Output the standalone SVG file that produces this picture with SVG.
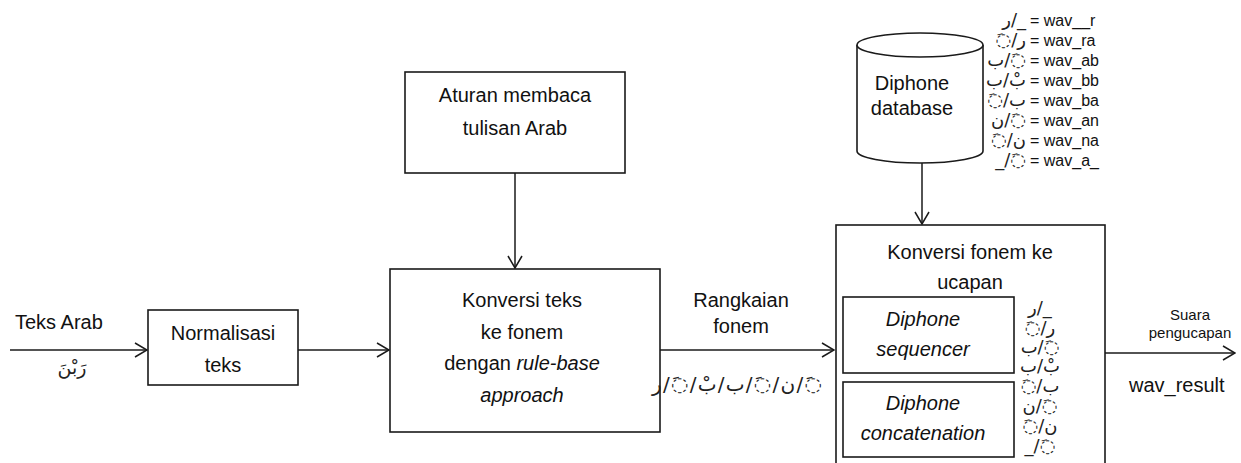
<svg xmlns="http://www.w3.org/2000/svg" width="1241" height="463" viewBox="0 0 1241 463">
<style>
.box{fill:#fff;stroke:#1a1a1a;stroke-width:1.6}
.ln{fill:none;stroke:#1a1a1a;stroke-width:1.5}
.t{font-family:'Liberation Sans','DejaVu Sans',sans-serif;font-size:20px;fill:#111}
.c{text-anchor:middle}
.i{font-style:italic}
.s{font-size:16px}
.ar{font-family:'DejaVu Sans',sans-serif;font-size:18px;fill:#222;unicode-bidi:bidi-override;direction:ltr}
</style>
<defs>
<marker id="arr" viewBox="0 0 14 16" refX="13" refY="8" markerWidth="14" markerHeight="16" markerUnits="userSpaceOnUse" orient="auto">
<path d="M1,1 L13,8 L1,15" fill="none" stroke="#1a1a1a" stroke-width="1.5"/>
</marker>
</defs>
<rect width="1241" height="463" fill="#fff"/>

<g id="connectors">
<line class="ln" x1="10" y1="350" x2="147" y2="350" marker-end="url(#arr)"/>
<line class="ln" x1="298" y1="350" x2="389" y2="350" marker-end="url(#arr)"/>
<line class="ln" x1="515" y1="173" x2="515" y2="268" marker-end="url(#arr)"/>
<line class="ln" x1="660" y1="350" x2="834" y2="350" marker-end="url(#arr)"/>
<line class="ln" x1="922" y1="163" x2="922" y2="224" marker-end="url(#arr)"/>
<line class="ln" x1="1105" y1="353" x2="1235" y2="353" marker-end="url(#arr)"/>
</g>

<g id="input-label">
<text class="t" x="15" y="329">Teks Arab</text>
<text class="ar" x="72" y="374" style="font-size:19px;text-anchor:middle;unicode-bidi:normal;direction:rtl">رَبْنَ</text>
</g>

<g id="node-normalisasi">
<rect class="box" x="148" y="310" width="150" height="75"/>
<text class="t c" x="223" y="340">Normalisasi</text>
<text class="t c" x="223" y="372">teks</text>
</g>

<g id="node-aturan">
<rect class="box" x="405" y="72" width="220" height="101"/>
<text class="t c" x="515" y="102">Aturan membaca</text>
<text class="t c" x="515" y="135">tulisan Arab</text>
</g>

<g id="node-konversi-teks">
<rect class="box" x="390" y="269" width="270" height="163"/>
<text class="t c" x="522" y="307">Konversi teks</text>
<text class="t c" x="522" y="339">ke fonem</text>
<text class="t c" x="522" y="370">dengan <tspan class="i">rule-base</tspan></text>
<text class="t c i" x="522" y="402">approach</text>
</g>

<g id="label-rangkaian">
<text class="t c" x="741" y="307">Rangkaian</text>
<text class="t c" x="741" y="333">fonem</text>
<text class="ar" x="652" y="391" style="font-size:20px" textLength="170" lengthAdjust="spacing">ر/◌َ/بْ/ب/◌َ/ن/◌َ</text>
</g>

<g id="node-database">
<path class="box" d="M857,45 L857,151 A63,12 0 0 0 983,151 L983,45"/>
<ellipse class="box" cx="920" cy="45" rx="63" ry="12"/>
<text class="t c" x="912" y="90">Diphone</text>
<text class="t c" x="912" y="115">database</text>
</g>

<g id="diphone-list">
<text class="ar" x="1026" y="26" style="text-anchor:end">ر/_</text>
<text class="ar" x="1026" y="46" style="text-anchor:end">◌َ/ر</text>
<text class="ar" x="1026" y="66" style="text-anchor:end">ب/◌َ</text>
<text class="ar" x="1026" y="86" style="text-anchor:end">ب/بْ</text>
<text class="ar" x="1026" y="106" style="text-anchor:end">◌َ/ب</text>
<text class="ar" x="1026" y="126" style="text-anchor:end">ن/◌َ</text>
<text class="ar" x="1026" y="146" style="text-anchor:end">◌َ/ن</text>
<text class="ar" x="1026" y="166" style="text-anchor:end">_/◌َ</text>
<text class="t s" x="1030" y="26">= wav__r</text>
<text class="t s" x="1030" y="46">= wav_ra</text>
<text class="t s" x="1030" y="66">= wav_ab</text>
<text class="t s" x="1030" y="86">= wav_bb</text>
<text class="t s" x="1030" y="106">= wav_ba</text>
<text class="t s" x="1030" y="126">= wav_an</text>
<text class="t s" x="1030" y="146">= wav_na</text>
<text class="t s" x="1030" y="166">= wav_a_</text>
</g>

<g id="node-konversi-fonem">
<rect class="box" x="836" y="225" width="269" height="260"/>
<text class="t c" x="970" y="259">Konversi fonem ke</text>
<text class="t c" x="970" y="289">ucapan</text>
</g>

<g id="node-sequencer">
<rect class="box" x="843" y="297" width="171" height="76"/>
<text class="t c i" x="923" y="326">Diphone</text>
<text class="t c i" x="923" y="356">sequencer</text>
</g>

<g id="node-concatenation">
<rect class="box" x="843" y="382" width="171" height="75"/>
<text class="t c i" x="923" y="410">Diphone</text>
<text class="t c i" x="923" y="440">concatenation</text>
</g>

<g id="inner-list">
<text class="ar" x="1040" y="314" style="text-anchor:middle">ر/_</text>
<text class="ar" x="1040" y="334" style="text-anchor:middle">◌َ/ر</text>
<text class="ar" x="1040" y="353" style="text-anchor:middle">ب/◌َ</text>
<text class="ar" x="1040" y="372" style="text-anchor:middle">ب/بْ</text>
<text class="ar" x="1040" y="392" style="text-anchor:middle">◌َ/ب</text>
<text class="ar" x="1040" y="412" style="text-anchor:middle">ن/◌َ</text>
<text class="ar" x="1040" y="432" style="text-anchor:middle">◌َ/ن</text>
<text class="ar" x="1040" y="452" style="text-anchor:middle">_/◌َ</text>
</g>

<g id="output-label">
<text class="t c" x="1190" y="320" style="font-size:15px">Suara</text>
<text class="t c" x="1190" y="338" style="font-size:15px">pengucapan</text>
<text class="t" x="1129" y="392">wav_result</text>
</g>
</svg>
